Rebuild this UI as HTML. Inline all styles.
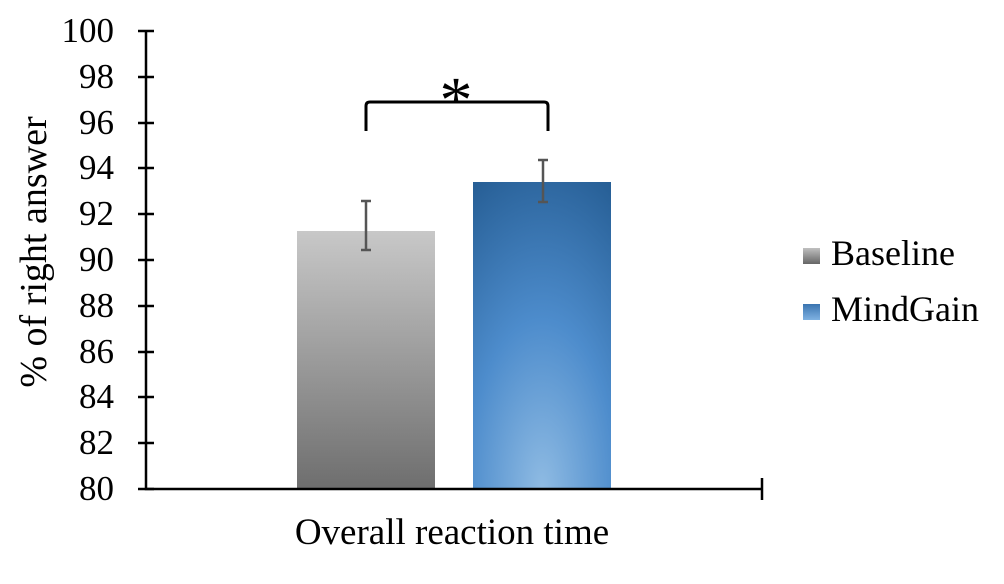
<!DOCTYPE html>
<html><head><style>body{margin:0;background:#fff}</style></head><body>
<svg width="1004" height="579" xmlns="http://www.w3.org/2000/svg" font-family="Liberation Serif, serif">
<defs>
<linearGradient id="g1" x1="0" y1="0" x2="0" y2="1"><stop offset="0" stop-color="#c8c8c8"/><stop offset="1" stop-color="#6e6e6e"/></linearGradient>
<radialGradient id="g2" cx="0.5" cy="1" r="1.1"><stop offset="0" stop-color="#8fbbe3"/><stop offset="0.5" stop-color="#4d8ccc"/><stop offset="1" stop-color="#275f96"/></radialGradient>
<linearGradient id="l1" x1="0" y1="0" x2="0" y2="1"><stop offset="0" stop-color="#c0c0c0"/><stop offset="1" stop-color="#666"/></linearGradient>
<linearGradient id="l2" x1="0" y1="0" x2="0" y2="1"><stop offset="0" stop-color="#3a74b0"/><stop offset="1" stop-color="#7fb2e2"/></linearGradient>
</defs>
<rect x="297" y="231" width="138" height="258" fill="url(#g1)"/>
<rect x="473" y="182" width="138" height="307" fill="url(#g2)"/>
<g stroke="#555" stroke-width="2.5" fill="none">
<path d="M366 201V250M361 201H371M361 250H371"/>
<path d="M543 160V202M538 160H548M538 202H548"/>
</g>
<g stroke="#000" stroke-width="2.5" fill="none">
<path d="M146 31V489H762M762 478V500"/>
<path d="M138 31H154M138 77H154M138 123H154M138 168H154M138 214H154M138 260H154M138 306H154M138 352H154M138 397H154M138 443H154M138 489H154"/>
<path d="M366 131V106Q366 102 370 102H544Q548 102 548 106V131" stroke-width="3"/>
</g>
<text x="456" y="122" font-size="66" text-anchor="middle">*</text>
<g font-size="35" text-anchor="end">
<text x="114" y="42">100</text><text x="114" y="88">98</text><text x="114" y="134">96</text><text x="114" y="179">94</text><text x="114" y="225">92</text><text x="114" y="271">90</text><text x="114" y="317">88</text><text x="114" y="363">86</text><text x="114" y="408">84</text><text x="114" y="454">82</text><text x="114" y="500">80</text>
</g>
<text transform="translate(46,252) rotate(-90)" font-size="38" text-anchor="middle">% of right answer</text>
<text x="452" y="544" font-size="37" text-anchor="middle">Overall reaction time</text>
<rect x="803" y="248" width="17" height="16" fill="url(#l1)"/>
<rect x="803" y="304" width="17" height="16" fill="url(#l2)"/>
<text x="831" y="265" font-size="36">Baseline</text>
<text x="831" y="321" font-size="36">MindGain</text>
</svg>
</body></html>
